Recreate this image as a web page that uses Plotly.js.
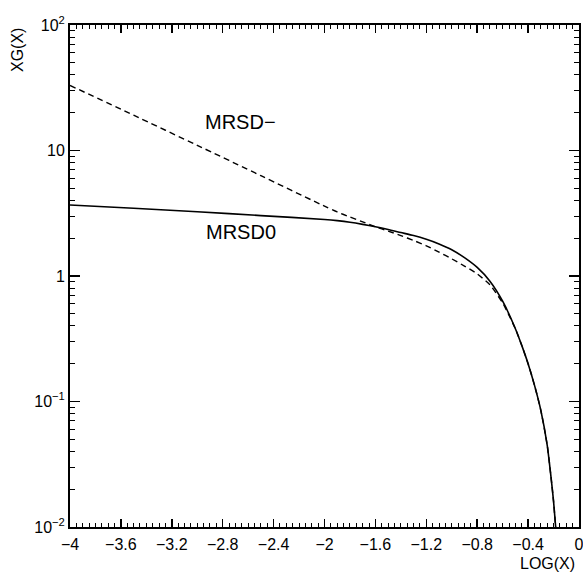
<!DOCTYPE html>
<html>
<head>
<meta charset="utf-8">
<script src="https://cdn.plot.ly/plotly-3.0.1.min.js"></script>
<style>html,body{margin:0;padding:0;background:#fff;}#chart{width:583px;height:573px;}</style>
</head>
<body>
<div id="chart"></div>
<script>
// log10(x) values
var xSolid = [-4, -3.5, -3, -2.5, -2, -1.9, -1.8, -1.7, -1.6, -1.5, -1.4, -1.3, -1.2, -1.1, -1.0, -0.9, -0.8, -0.7, -0.6, -0.5, -0.45, -0.4, -0.35, -0.3, -0.25, -0.22, -0.2, -0.18];
var ySolid = [3.68, 3.47, 3.25, 3.03, 2.82, 2.76, 2.68, 2.58, 2.47, 2.35, 2.22, 2.10, 1.96, 1.80, 1.62, 1.40, 1.17, 0.91, 0.63, 0.38, 0.28, 0.20, 0.135, 0.085, 0.045, 0.025, 0.016, 0.009];
var xDash = [-4, -3.5, -3, -2.5, -2, -1.9, -1.8, -1.7, -1.6, -1.5, -1.4, -1.3, -1.2, -1.1, -1.0, -0.9, -0.8, -0.7, -0.6, -0.5, -0.45, -0.4, -0.35, -0.3, -0.25, -0.22, -0.2, -0.18];
var yDash = [33, 19.1, 11.0, 6.3, 3.6, 3.24, 2.95, 2.70, 2.47, 2.28, 2.10, 1.92, 1.74, 1.55, 1.37, 1.20, 1.04, 0.85, 0.61, 0.38, 0.28, 0.20, 0.135, 0.085, 0.045, 0.025, 0.016, 0.009];
var xTickVals = [-4, -3.6, -3.2, -2.8, -2.4, -2, -1.6, -1.2, -0.8, -0.4, 0];
var xTickText = ["\u22124", "\u22123.6", "\u22123.2", "\u22122.8", "\u22122.4", "\u22122", "\u22121.6", "\u22121.2", "\u22120.8", "\u22120.4", "0"];
var yTickVals = [0.01, 0.1, 1, 10, 100];
var yTickText = ["10<sup>\u22122</sup>", "10<sup>\u22121</sup>", "1", "10", "10<sup>2</sup>"];
var labelNames = ["MRSD\u2212", "MRSD0"];
var labelX = [-2.66, -2.66];
var labelY = [16.9, 2.24];

var font = "Liberation Sans, Arial, sans-serif";
var traces = [
  {x: xSolid, y: ySolid, mode: "lines", line: {color: "#000", width: 1.6, shape: "spline", smoothing: 0.6}, type: "scatter", hoverinfo: "none"},
  {x: xDash, y: yDash, mode: "lines", line: {color: "#000", width: 1.4, dash: "6px,4px", shape: "spline", smoothing: 0.6}, type: "scatter", hoverinfo: "none"}
];
var pw = 583 - 70 - 4, ph = 573 - 25 - 46;
var annotations = [];
for (var i = 0; i < labelNames.length; i++) {
  annotations.push({x: labelX[i], y: Math.log10(labelY[i]), xref: "x", yref: "y", xanchor: "center", yanchor: "middle", text: labelNames[i], showarrow: false, font: {family: font, size: 20, color: "#000"}});
}
annotations.push({x: (18 - 70) / pw, y: 1 - (50 - 25) / ph, xref: "paper", yref: "paper", xanchor: "center", yanchor: "middle", text: "XG(X)", showarrow: false, textangle: -90, font: {family: font, size: 16, color: "#000"}});
annotations.push({x: (547 - 70) / pw, y: 1 - (563 - 25) / ph, xref: "paper", yref: "paper", xanchor: "center", yanchor: "middle", text: "LOG(X)", showarrow: false, font: {family: font, size: 16, color: "#000"}});

var layout = {
  width: 583, height: 573,
  margin: {l: 70, r: 4, t: 25, b: 46},
  paper_bgcolor: "#fff", plot_bgcolor: "#fff",
  showlegend: false,
  font: {family: font, size: 16, color: "#000"},
  xaxis: {
    range: [-4, 0], tickvals: xTickVals, ticktext: xTickText,
    ticks: "inside", ticklen: 8, tickwidth: 1.5, tickcolor: "#000",
    showline: true, linecolor: "#000", linewidth: 2, mirror: "ticks",
    showgrid: false, zeroline: false,
    minor: {dtick: 0.05, ticks: "inside", ticklen: 4, tickwidth: 1, tickcolor: "#000", showgrid: false},
    tickfont: {family: font, size: 16, color: "#000"},
    ticklabelstandoff: 2,
    ticklabeloverflow: "allow"
  },
  yaxis: {
    type: "log", range: [-2, 2], tickvals: yTickVals, ticktext: yTickText,
    ticks: "inside", ticklen: 10, tickwidth: 1.5, tickcolor: "#000",
    showline: true, linecolor: "#000", linewidth: 2, mirror: "ticks",
    showgrid: false, zeroline: false,
    minor: {dtick: "D1", ticks: "inside", ticklen: 5, tickwidth: 1, tickcolor: "#000", showgrid: false},
    tickfont: {family: font, size: 16, color: "#000"},
    ticklabelstandoff: 0,
    ticklabeloverflow: "allow"
  },
  annotations: annotations
};
Plotly.newPlot("chart", traces, layout, {staticPlot: true, displayModeBar: false});
</script>
</body>
</html>
